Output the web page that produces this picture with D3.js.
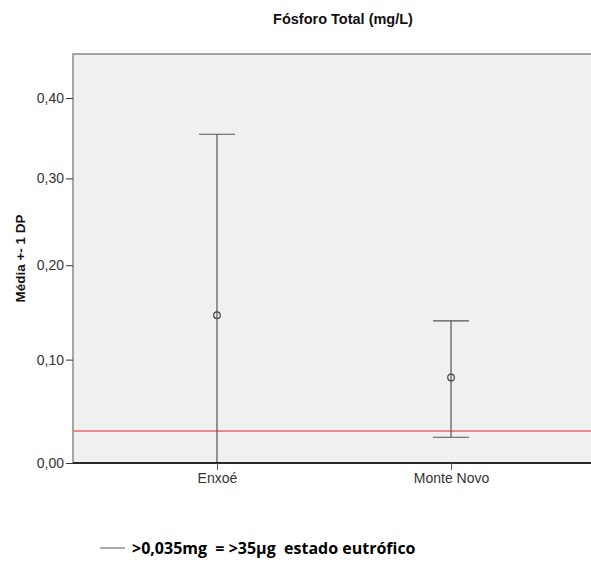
<!DOCTYPE html>
<html>
<head>
<meta charset="utf-8">
<script src="https://cdn.jsdelivr.net/npm/d3@7"></script>
<style>
  body { margin: 0; background: #fff; }
  svg { font-family: "Liberation Sans", Arial, sans-serif; }
</style>
</head>
<body>
<svg width="591" height="562"></svg>
<script>
// data
var sites = ['Enxoé', 'Monte Novo'];
var means = [0.146, 0.082];
var sds = [0.208, 0.058];
var yTicks = [0, 0.1, 0.2, 0.3, 0.4];
var limitValue = 0.03;

var svg = d3.select('svg');
var padding = {t: 54, r: -4, b: 99, l: 73};
var svgWidth = +svg.attr('width');
var svgHeight = +svg.attr('height');
var chartWidth = svgWidth - padding.l - padding.r;
var chartHeight = svgHeight - padding.t - padding.b;

// SPSS axis here is log(1+x), same as symlog with constant 1
var yScale = d3.scaleSymlog().constant(1).domain([0, 0.458]).range([chartHeight, 0]);
var xScale = d3.scalePoint().domain(sites).range([0, chartWidth]).padding(0.615);

svg.append('text')
    .attr('x', 343).attr('y', 24)
    .attr('text-anchor', 'middle')
    .style('font-weight', 'bold').style('font-size', '14.5px')
    .style('fill', '#111')
    .text('Fósforo Total (mg/L)');

var chartG = svg.append('g')
    .attr('transform', 'translate(' + [padding.l, padding.t] + ')');

chartG.append('rect')
    .attr('width', chartWidth).attr('height', chartHeight)
    .style('fill', '#f0f0f0')
    .style('stroke', '#8a8a8a').style('stroke-width', 1.5);

var clip = chartG.append('clipPath').attr('id', 'plotclip');
clip.append('rect').attr('width', chartWidth).attr('height', chartHeight);

// reference line
chartG.append('line')
    .attr('x1', 0).attr('x2', chartWidth)
    .attr('y1', yScale(limitValue)).attr('y2', yScale(limitValue))
    .style('stroke', '#e8696b').style('stroke-width', 1.5);

var bars = chartG.append('g').attr('clip-path', 'url(#plotclip)')
    .selectAll('.err')
    .data(sites)
    .enter().append('g')
    .attr('class', 'err')
    .attr('transform', function(d) { return 'translate(' + xScale(d) + ',0)'; });

bars.append('line')
    .attr('y1', function(d, i) { return yScale(means[i] + sds[i]); })
    .attr('y2', function(d, i) { return yScale(Math.max(means[i] - sds[i], -0.05)); })
    .style('stroke', '#555').style('stroke-width', 1.2);

bars.append('line')
    .attr('x1', -18).attr('x2', 18)
    .attr('y1', function(d, i) { return yScale(means[i] + sds[i]); })
    .attr('y2', function(d, i) { return yScale(means[i] + sds[i]); })
    .style('stroke', '#555').style('stroke-width', 1.2);

bars.filter(function(d, i) { return means[i] - sds[i] >= 0; })
    .append('line')
    .attr('x1', -18).attr('x2', 18)
    .attr('y1', function(d) { var i = sites.indexOf(d); return yScale(means[i] - sds[i]); })
    .attr('y2', function(d) { var i = sites.indexOf(d); return yScale(means[i] - sds[i]); })
    .style('stroke', '#555').style('stroke-width', 1.2);

bars.append('circle')
    .attr('cy', function(d, i) { return yScale(means[i]); })
    .attr('r', 3.3)
    .style('fill', 'none').style('stroke', '#444').style('stroke-width', 1.2);

// axes
var yAxisG = chartG.append('g')
    .call(d3.axisLeft(yScale).tickValues(yTicks).tickSize(7).tickPadding(2)
        .tickFormat(function(d) { return d3.format('.2f')(d).replace('.', ','); }));
yAxisG.select('.domain').remove();
yAxisG.selectAll('line').style('stroke', '#333');
yAxisG.selectAll('text').style('font-size', '14px').style('fill', '#333')
    .style('font-family', '"Liberation Sans", Arial, sans-serif');

var xAxisG = chartG.append('g')
    .attr('transform', 'translate(0,' + chartHeight + ')')
    .call(d3.axisBottom(xScale).tickSize(7).tickSizeOuter(0).tickPadding(3));
xAxisG.select('.domain').style('stroke', '#000').style('stroke-width', 1.3)
    .attr('d', 'M0,0H' + chartWidth);
xAxisG.selectAll('line').style('stroke', '#555');
xAxisG.selectAll('text').style('font-size', '14px').style('fill', '#333')
    .style('font-family', '"Liberation Sans", Arial, sans-serif');

// y label
svg.append('text')
    .attr('transform', 'translate(25,' + (padding.t + chartHeight / 2) + ') rotate(-90)')
    .attr('text-anchor', 'middle')
    .style('font-weight', 'bold').style('font-size', '13.5px')
    .style('fill', '#111')
    .text('Média +- 1 DP');

// legend
svg.append('line')
    .attr('x1', 100).attr('x2', 125).attr('y1', 548).attr('y2', 548)
    .style('stroke', '#555').style('stroke-width', 1);
svg.append('text')
    .attr('x', 132).attr('y', 554)
    .attr('xml:space', 'preserve')
    .style('white-space', 'pre')
    .style('font-weight', 'bold').style('font-size', '16px')
    .style('font-family', '"Open Sans", "Liberation Sans", sans-serif')
    .style('fill', '#000')
    .text('>0,035mg  = >35µg  estado eutrófico');
</script>
</body>
</html>
